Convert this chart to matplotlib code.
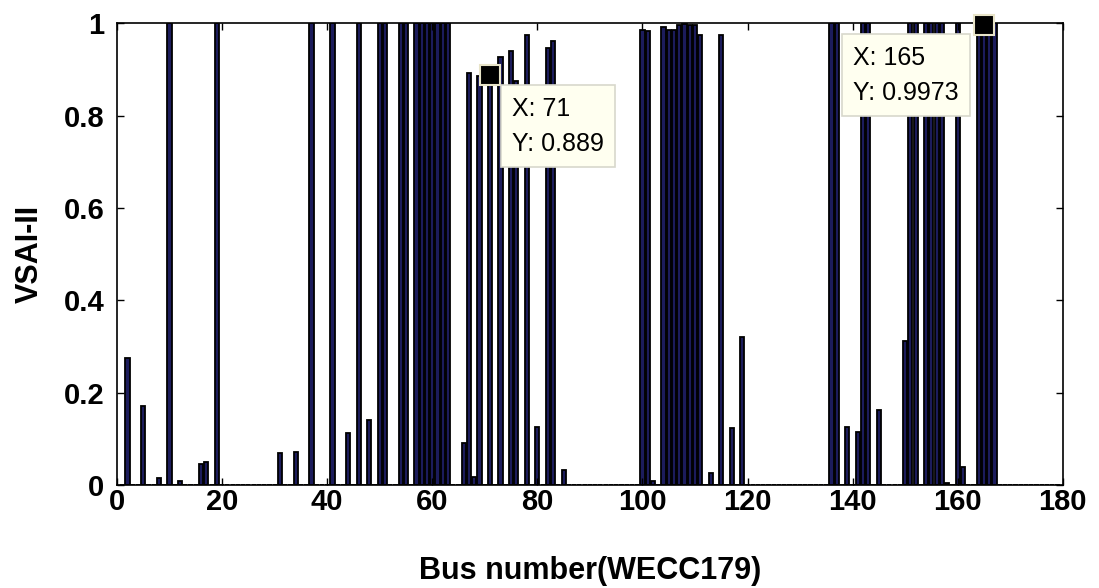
import numpy as np
import matplotlib.pyplot as plt

n_bus = 179

# buses with a non-zero stability index (all other buses are 0)
bus_ids = [2, 5, 8, 10, 12, 16, 17, 19,
           31, 34, 37, 41, 44, 46, 48, 50, 51, 54, 55,
           57, 58, 59, 60, 61, 62, 63,
           66, 67, 68, 69, 71, 73, 75, 76, 78, 80, 82, 83, 85,
           100, 101, 102, 104, 105, 106, 107, 108, 109, 110, 111,
           113, 115, 117, 119,
           136, 137, 139, 141, 142, 143, 145,
           150, 151, 152, 154, 155, 156, 157, 158,
           160, 161, 164, 165, 166, 167]
vsai_vals = [0.275, 0.17, 0.015, 1.0, 0.008, 0.045, 0.05, 1.0,
             0.069, 0.072, 1.0, 1.0, 0.112, 1.0, 0.141, 1.0, 1.0, 1.0, 1.0,
             1.0, 1.0, 1.0, 1.0, 1.0, 1.0, 1.0,
             0.09, 0.893, 0.018, 0.886, 0.889, 0.928, 0.941, 0.875, 0.975, 0.126, 0.946, 0.962, 0.032,
             0.985, 0.983, 0.008, 0.992, 0.985, 0.985, 0.997, 0.998, 0.997, 0.996, 0.974,
             0.027, 0.975, 0.123, 0.32,
             1.0, 1.0, 0.126, 0.115, 1.0, 1.0, 0.162,
             0.312, 1.0, 1.0, 1.0, 1.0, 1.0, 1.0, 0.004,
             1.0, 0.04, 1.0, 0.9973, 1.0, 1.0]

# data tips shown on the plot
tip_buses = [71, 165]

buses = np.arange(1, n_bus + 1)
vsai = np.zeros(n_bus)
for b, v in zip(bus_ids, vsai_vals):
	vsai[b - 1] = v

plt.rcParams['font.family'] = 'Liberation Sans'
fig = plt.figure(figsize=(10.99, 5.88), dpi=100)
ax = fig.add_axes([0.1065, 0.1752, 0.8605, 0.7852])

ax.bar(buses, vsai, width=0.8, color='#1c1c5c', edgecolor='black', linewidth=1.3)

ax.set_xlim(0, 180)
ax.set_ylim(0, 1)
ax.set_xticks(np.arange(0, 181, 20))
ax.set_yticks([0, 0.2, 0.4, 0.6, 0.8, 1])
ax.set_yticklabels(['0', '0.2', '0.4', '0.6', '0.8', '1'])
ax.tick_params(direction='in', length=5, width=1, top=True, right=True,
			   labelsize=21)
ax.tick_params(axis='x', pad=2)
ax.tick_params(axis='y', pad=9)
for lab in ax.get_xticklabels() + ax.get_yticklabels():
	lab.set_fontweight('bold')
for sp in ax.spines.values():
	sp.set_linewidth(1.2)

ax.set_xlabel('Bus number(WECC179)', fontsize=22, fontweight='bold', labelpad=29)
ax.set_ylabel('VSAI-II', fontsize=22, fontweight='bold', labelpad=14)

# data tips: black square marker plus a pale yellow label box
offsets = {71: (22, -22), 165: (-131, -21)}
for b in tip_buses:
	v = vsai[b - 1]
	ax.plot(b, v, 's', ms=14.5, mfc='black', mec='#e8e4c8', mew=1.5, clip_on=False, zorder=5)
	dx, dy = offsets[b]
	ax.annotate(f'X: {b}\nY: {v:g}', xy=(b, v), xytext=(dx, dy), textcoords='offset pixels',
				ha='left', va='top', fontsize=18, linespacing=1.6, zorder=6,
				bbox=dict(boxstyle='square,pad=0.45', fc='#fffff0', ec='#d8d8cc', lw=1.2))

fig.savefig('out.png', dpi=100)
